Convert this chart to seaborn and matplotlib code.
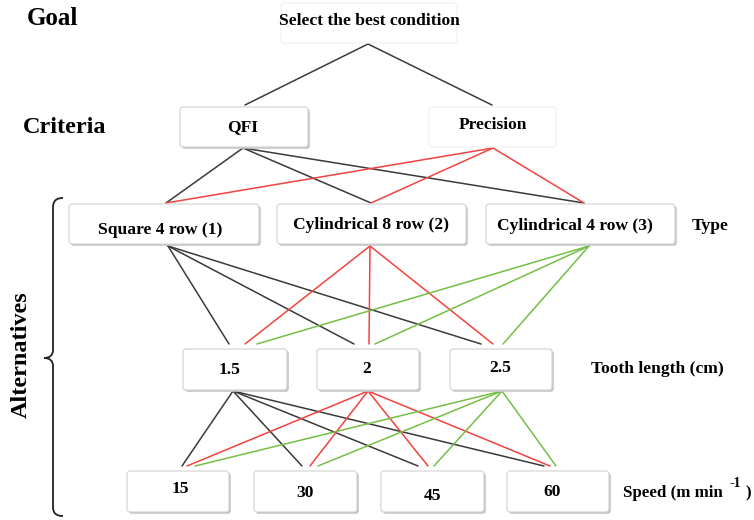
import matplotlib
matplotlib.use("Agg")
import matplotlib.pyplot as plt
from matplotlib.patches import FancyBboxPatch, PathPatch
from matplotlib.path import Path
import pandas as pd
import seaborn as sns

# ---------------- data ----------------
level_names = ["Goal", "Criteria", "Alternatives"]
goal_label = ["Select the best condition"]
criteria = ["QFI", "Precision"]
types = ["Square 4 row (1)", "Cylindrical 8 row (2)", "Cylindrical 4 row (3)"]
tooth = ["1.5", "2", "2.5"]
speed = ["15", "30", "45", "60"]
attr_names = ["Type", "Tooth length (cm)", "Speed (m min"]
speed_unit_sup = "-1"
speed_unit_close = ")"

# ---------------- layout (pixel space) ----------------
goal_box = [(281, 457)]
crit_box = [(180, 308), (429, 556)]
type_box = [(69, 259), (277, 466), (486, 675)]
tooth_box = [(183, 287), (317, 419), (450, 552)]
speed_box = [(127, 229), (254, 357), (381, 484), (507, 609)]
box_y = {"goal": (3, 43), "crit": (107, 147), "type": (204, 244),
         "tooth": (349, 390), "speed": (471, 512)}

goal_lab = [(369, 25)]
crit_lab = [(243, 131), (493, 129)]
type_lab = [(160, 234), (371, 229), (575, 230)]
tooth_lab = [(230, 374), (367, 373), (500, 372)]
speed_lab = [(180, 493), (305, 497), (432, 500), (552, 496)]

# anchors
goal_bottom = [(368, 44)]
crit_top = [(245, 105), (492, 105)]
crit_bottom = [(243, 148), (493, 148)]
type_top = [(166, 203), (371, 203), (584, 203)]
type_bottom = [(168, 246), (370, 246), (589, 246)]
tooth_top_x = [[229, 245, 257], [354, 369, 375], [481, 493, 503]]
tooth_top_y = 344
tooth_bottom = [(233, 391), (368, 391), (502, 391)]
speed_top_x = [[182, 187, 195], [302, 310, 318], [418, 428, 434], [544, 550, 556]]
speed_top_y = 466

palette = {"k": "#3a3a3a", "r": "#f2433f", "g": "#74bf46"}
src_colors = ["k", "r", "g"]

# ---------------- edges table ----------------
rows = []
eid = 0
def add(p0, p1, c):
    global eid
    rows.append(dict(edge=eid, x=p0[0], y=p0[1], c=c))
    rows.append(dict(edge=eid, x=p1[0], y=p1[1], c=c))
    eid += 1

for j in range(len(criteria)):
    add(goal_bottom[0], crit_top[j], "k")
for i in range(len(criteria)):
    for j in range(len(types)):
        add(crit_bottom[i], type_top[j], src_colors[i])
for i in range(len(types)):
    for j in range(len(tooth)):
        add(type_bottom[i], (tooth_top_x[j][i], tooth_top_y), src_colors[i])
for i in range(len(tooth)):
    for j in range(len(speed)):
        add(tooth_bottom[i], (speed_top_x[j][i], speed_top_y), src_colors[i])
edges = pd.DataFrame(rows)

# ---------------- drawing ----------------
sns.set_theme(style="white")
plt.rcParams["font.family"] = ["Liberation Serif", "DejaVu Serif"]
plt.rcParams["text.color"] = "black"

fig = plt.figure(figsize=(7.54, 5.2), dpi=100)
ax = fig.add_axes([0, 0, 1, 1])

sns.lineplot(data=edges, x="x", y="y", units="edge", estimator=None, sort=False,
             hue="c", palette=palette, legend=False, linewidth=1.1, ax=ax, zorder=2)

def draw_boxes(boxes, yr, faint=False):
    y0, y1 = yr
    for (x0, x1) in boxes:
        if not faint:
            sh = FancyBboxPatch((x0 + 1.8, y0 + 1.8), x1 - x0, y1 - y0,
                                boxstyle="round,pad=0,rounding_size=3",
                                fc="#c4c4c4", ec="none", zorder=3)
            ax.add_patch(sh)
        b = FancyBboxPatch((x0, y0), x1 - x0, y1 - y0,
                           boxstyle="round,pad=0,rounding_size=3",
                           fc="white", ec="#efefef" if faint else "#d2d2d2",
                           lw=0.8, zorder=4)
        ax.add_patch(b)

draw_boxes(goal_box, box_y["goal"], faint=True)
draw_boxes(crit_box[:1], box_y["crit"])
draw_boxes(crit_box[1:], box_y["crit"], faint=True)
draw_boxes(type_box, box_y["type"])
draw_boxes(tooth_box, box_y["tooth"])
draw_boxes(speed_box, box_y["speed"])

fs = 12.6
def labels(names, pos):
    for n, (x, y) in zip(names, pos):
        ax.text(x, y, n, ha="center", va="baseline", fontsize=fs,
                fontweight="bold", color="black", zorder=5)

labels(goal_label, goal_lab)
labels(criteria, crit_lab)
labels(types, type_lab)
labels(tooth, tooth_lab)
labels(speed, speed_lab)

# level names
ax.text(27, 25, level_names[0], ha="left", va="baseline", fontsize=18, fontweight="bold")
ax.text(23, 133, level_names[1], ha="left", va="baseline", fontsize=17.5, fontweight="bold")
ax.text(21, 355, level_names[2], ha="center", va="center", rotation=90,
        fontsize=17.5, fontweight="bold")

# attribute names
ax.text(692, 230, attr_names[0], ha="left", va="baseline", fontsize=fs, fontweight="bold")
ax.text(591, 373, attr_names[1], ha="left", va="baseline", fontsize=fs, fontweight="bold")
ax.text(623, 497, attr_names[2], ha="left", va="baseline", fontsize=12.2, fontweight="bold")
ax.text(730, 487, speed_unit_sup, ha="left", va="baseline", fontsize=10, fontweight="bold")
ax.text(745, 497, speed_unit_close, ha="left", va="baseline", fontsize=12.2, fontweight="bold")

# curly brace
verts = [(63, 198), (56, 198), (53, 201), (53, 208),
         (53, 350),
         (53, 355), (50, 358), (44, 358),
         (50, 358), (53, 361), (53, 366),
         (53, 507),
         (53, 513), (56, 516), (63, 516)]
codes = [Path.MOVETO, Path.CURVE4, Path.CURVE4, Path.CURVE4,
         Path.LINETO,
         Path.CURVE4, Path.CURVE4, Path.CURVE4,
         Path.CURVE4, Path.CURVE4, Path.CURVE4,
         Path.LINETO,
         Path.CURVE4, Path.CURVE4, Path.CURVE4]
ax.add_patch(PathPatch(Path(verts, codes), fc="none", ec="#222222", lw=1.3, zorder=5))

ax.set_xlim(0, 754)
ax.set_ylim(520, 0)
ax.set_axis_off()
fig.savefig("out.png", dpi=100, facecolor="white")
